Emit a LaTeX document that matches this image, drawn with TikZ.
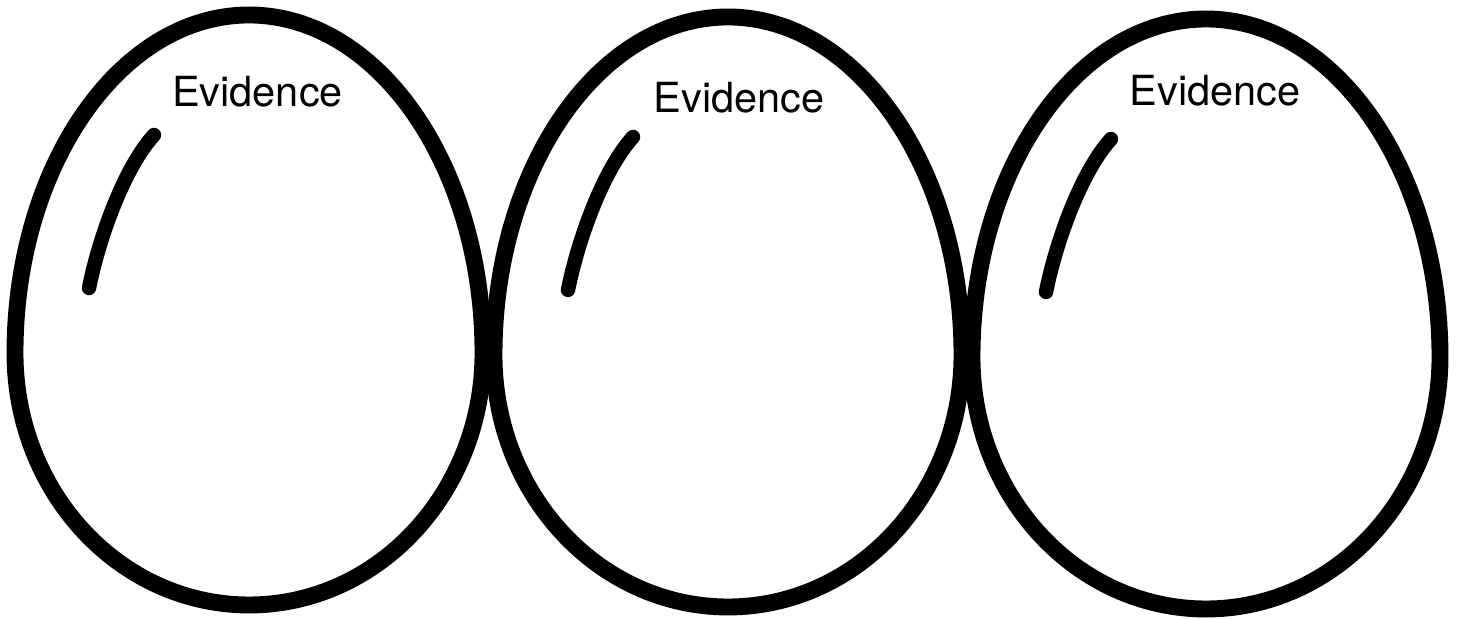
\documentclass[tikz,border=0pt]{standalone}
\usepackage{fontspec}
\setmainfont{TeX Gyre Heros}
\usetikzlibrary{calc}

\begin{document}
\begin{tikzpicture}[x=0.01cm, y=0.01cm, line join=round, line cap=round,
    shell/.style={line width=4.8pt},
    shine/.style={line width=4.1pt},
    evtext/.style={font=\fontsize{11.8}{14}\selectfont, anchor=base, inner sep=0pt}]
    \useasboundingbox (0,0) rectangle (1460,619);

    % egg centres (at the widest point)
    \coordinate (E1) at (249,266);
    \coordinate (E2) at (728,264);
    \coordinate (E3) at (1206,262);

    % shells and highlights
    \foreach \e in {E1,E2,E3}{
        \draw[shell] ($(\e)+(-234,0)$)
            arc[start angle=180, end angle=0, x radius=234, y radius=338]
            arc[start angle=0, end angle=-180, x radius=234, y radius=252] -- cycle;
        \draw[shine] ($(\e)+(-95,218)$) .. controls ($(\e)+(-125,185)$) and ($(\e)+(-150,115)$) .. ($(\e)+(-160,65)$);
    }

    % labels
    \node[evtext] (ev1) at (257.5,512) {Evidence};
    \node[evtext] (ev2) at (739,506) {Evidence};
    \node[evtext] (ev3) at (1215,513) {Evidence};
\end{tikzpicture}
\end{document}
